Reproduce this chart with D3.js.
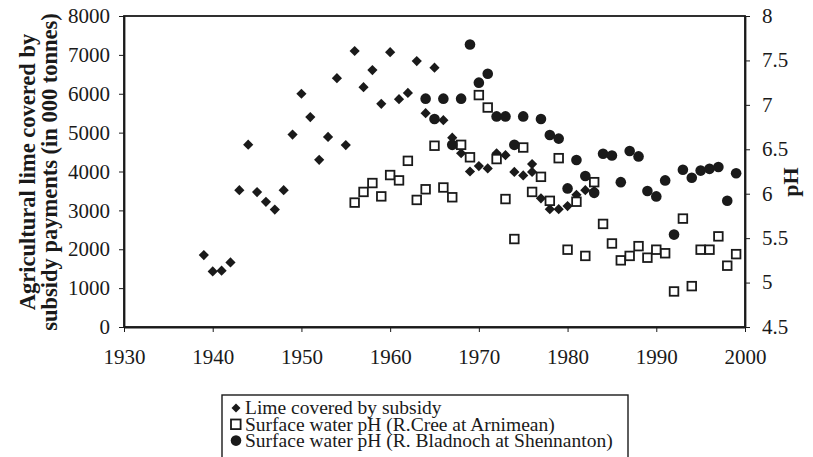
<!DOCTYPE html>
<html>
<head>
<meta charset="utf-8">
<script src="https://cdn.jsdelivr.net/npm/d3@7"></script>
<style>
  body { margin: 0; background: #fff; }
  svg { display: block; font-family: "Liberation Serif", "DejaVu Serif", serif; }
</style>
</head>
<body>
<svg id="chart" width="813" height="457"></svg>
<script>
// lime covered by subsidy (000 tonnes)
const limeYears = [1939, 1940, 1941, 1942, 1943, 1944, 1945, 1946, 1947, 1948, 1949, 1950, 1951, 1952, 1953, 1954, 1955, 1956, 1957, 1958, 1959, 1960, 1961, 1962, 1963, 1964, 1965, 1966, 1967, 1968, 1969, 1970, 1971, 1972, 1973, 1974, 1975, 1976, 1976, 1977, 1978, 1979, 1980, 1981, 1982, 1983];
const limeValues = [1850, 1430, 1450, 1660, 3520, 4690, 3470, 3220, 3020, 3520, 4950, 6000, 5400, 4300, 4890, 6400, 4680, 7100, 6170, 6610, 5740, 7070, 5860, 6020, 6840, 5500, 6670, 5320, 4870, 4470, 4000, 4140, 4080, 4470, 4420, 3990, 3900, 4190, 3990, 3310, 3030, 3030, 3110, 3400, 3520, 3500];

// surface water pH, R. Cree at Arnimean
const creeYears = [1956, 1957, 1958, 1959, 1960, 1961, 1962, 1963, 1964, 1965, 1966, 1967, 1968, 1969, 1970, 1971, 1972, 1973, 1974, 1975, 1976, 1977, 1978, 1979, 1980, 1981, 1982, 1983, 1984, 1985, 1986, 1987, 1988, 1989, 1990, 1991, 1992, 1993, 1994, 1995, 1996, 1997, 1998, 1999];
const creePH = [5.90, 6.02, 6.12, 5.97, 6.21, 6.15, 6.37, 5.93, 6.05, 6.54, 6.07, 5.96, 6.55, 6.41, 7.11, 6.97, 6.39, 5.94, 5.49, 6.52, 6.02, 6.19, 5.92, 6.40, 5.37, 5.91, 5.30, 6.13, 5.66, 5.44, 5.25, 5.30, 5.41, 5.28, 5.37, 5.33, 4.90, 5.72, 4.96, 5.37, 5.37, 5.52, 5.19, 5.32];

// surface water pH, R. Bladnoch at Shennanton
const bladYears = [1964, 1965, 1966, 1967, 1968, 1969, 1970, 1971, 1972, 1973, 1974, 1975, 1977, 1978, 1979, 1980, 1981, 1982, 1983, 1984, 1985, 1986, 1987, 1988, 1989, 1990, 1991, 1992, 1993, 1994, 1995, 1996, 1997, 1998, 1999];
const bladPH = [7.07, 6.84, 7.07, 6.55, 7.07, 7.68, 7.25, 7.35, 6.87, 6.87, 6.55, 6.87, 6.84, 6.66, 6.62, 6.06, 6.38, 6.20, 6.01, 6.45, 6.43, 6.13, 6.48, 6.42, 6.03, 5.97, 6.15, 5.54, 6.27, 6.18, 6.26, 6.28, 6.30, 5.92, 6.23];

const xTicks = [1930, 1940, 1950, 1960, 1970, 1980, 1990, 2000];
const yTicks = [0, 1000, 2000, 3000, 4000, 5000, 6000, 7000, 8000];
const phTicks = [4.5, 5, 5.5, 6, 6.5, 7, 7.5, 8];
const legendLabels = ["Lime covered by subsidy", "Surface water pH (R.Cree at Arnimean)", "Surface water pH (R. Bladnoch at Shennanton)"];

const svg = d3.select("#chart");

const x = d3.scaleLinear().domain([1930, 2000]).range([124, 745]);
const y = d3.scaleLinear().domain([0, 8000]).range([327, 16]);
const yPH = d3.scaleLinear().domain([4.5, 8]).range([327, 16]);

const ink = "#1a1a1a";

// frame
svg.append("rect")
    .attr("x", x(1930)).attr("y", y(8000))
    .attr("width", x(2000) - x(1930)).attr("height", y(0) - y(8000))
    .attr("fill", "none").attr("stroke", ink).attr("stroke-width", 1.8);

function styleAxis(g) {
    g.select(".domain").attr("stroke", ink).attr("stroke-width", 1.8);
    g.selectAll(".tick line").attr("stroke", ink).attr("stroke-width", 1);
    g.selectAll("text")
        .attr("fill", ink)
        .style("font-size", "21px")
        .style("font-family", "Liberation Serif, serif");
}

svg.append("g")
    .attr("transform", `translate(0,${y(0)})`)
    .call(d3.axisBottom(x).tickValues(xTicks).tickFormat(d3.format("d")).tickSize(5).tickSizeOuter(0).tickPadding(17))
    .call(styleAxis);

svg.append("g")
    .attr("transform", `translate(${x(1930)},0)`)
    .call(d3.axisLeft(y).tickValues(yTicks).tickFormat(d3.format("d")).tickSize(5).tickSizeOuter(0).tickPadding(9))
    .call(styleAxis);

svg.append("g")
    .attr("transform", `translate(${x(2000)},0)`)
    .call(d3.axisRight(yPH).tickValues(phTicks).tickFormat(d => d).tickSize(5).tickSizeOuter(0).tickPadding(12))
    .call(styleAxis)
    .selectAll("text").attr("dy", "0.3em");

// axis titles
svg.append("text")
    .attr("transform", `translate(39,172) rotate(-90)`)
    .attr("text-anchor", "middle")
    .style("font-size", "22.5px")
    .style("font-weight", "bold")
    .attr("fill", ink)
    .selectAll("tspan")
    .data(["Agricultural lime covered by", "subsidy payments (in 000 tonnes)"])
    .join("tspan")
    .attr("x", 0)
    .attr("dy", (d, i) => i === 0 ? "-0.2em" : "1.0em")
    .text(d => d);

svg.append("text")
    .attr("transform", `translate(798,182) rotate(-90)`)
    .attr("text-anchor", "middle")
    .style("font-size", "22px")
    .style("font-weight", "bold")
    .attr("fill", ink)
    .text("pH");

const limeData = limeYears.map((yr, i) => ({year: yr, value: limeValues[i]}));
const creeData = creeYears.map((yr, i) => ({year: yr, value: creePH[i]}));
const bladData = bladYears.map((yr, i) => ({year: yr, value: bladPH[i]}));

svg.append("g").selectAll("path")
    .data(limeData)
    .join("path")
    .attr("d", d3.symbol().type(d3.symbolSquare).size(52))
    .attr("transform", d => `translate(${x(d.year)},${y(d.value)}) rotate(45)`)
    .attr("fill", ink);

svg.append("g").selectAll("rect")
    .data(creeData)
    .join("rect")
    .attr("x", d => x(d.year) - 4.3)
    .attr("y", d => yPH(d.value) - 4.3)
    .attr("width", 8.6)
    .attr("height", 8.6)
    .attr("fill", "#fff")
    .attr("stroke", ink)
    .attr("stroke-width", 1.8);

svg.append("g").selectAll("circle")
    .data(bladData)
    .join("circle")
    .attr("cx", d => x(d.year))
    .attr("cy", d => yPH(d.value))
    .attr("r", 5.3)
    .attr("fill", ink);

// legend
const lg = svg.append("g");
lg.append("rect")
    .attr("x", 222).attr("y", 395)
    .attr("width", 406).attr("height", 80)
    .attr("fill", "#fff").attr("stroke", ink).attr("stroke-width", 1.4);

const rows = lg.selectAll("g.row")
    .data(legendLabels)
    .join("g")
    .attr("class", "row")
    .attr("transform", (d, i) => `translate(0,${408 + i * 16.3})`);

rows.append("text")
    .attr("x", 245)
    .attr("dy", "0.32em")
    .style("font-size", "19.5px")
    .attr("fill", ink)
    .text(d => d);

rows.filter((d, i) => i === 0).append("path")
    .attr("transform", "translate(236,0) rotate(45)")
    .attr("d", d3.symbol().type(d3.symbolSquare).size(40))
    .attr("fill", ink);
rows.filter((d, i) => i === 1).append("rect")
    .attr("x", 231).attr("y", -4.8).attr("width", 9.6).attr("height", 9.6)
    .attr("fill", "#fff").attr("stroke", ink).attr("stroke-width", 1.8);
rows.filter((d, i) => i === 2).append("circle")
    .attr("cx", 236).attr("cy", 0).attr("r", 5.3)
    .attr("fill", ink);
</script>
</body>
</html>
